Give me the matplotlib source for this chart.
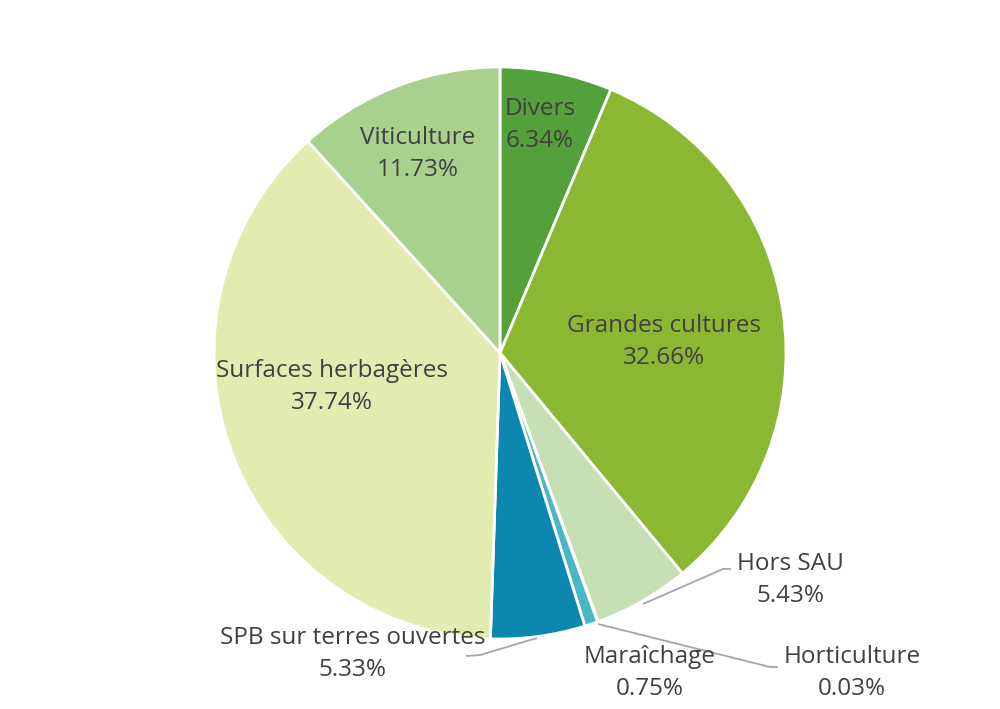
import matplotlib
matplotlib.use("Agg")
import matplotlib.pyplot as plt

categories = ["Divers", "Grandes cultures", "Hors SAU", "Horticulture", "Maraîchage",
              "SPB sur terres ouvertes", "Surfaces herbagères", "Viticulture"]
values = [6.34, 32.66, 5.43, 0.03, 0.75, 5.33, 37.74, 11.73]
colors = ["#54A03A", "#8AB833", "#C5E0B4", "#2E75B6", "#4BB7C6", "#0C87B0", "#E4EBB1", "#A9D18E"]

# label positions in pixel coordinates (x, y from top)
label_pos = {
    "Divers": (540, 125),
    "Grandes cultures": (664, 342),
    "Hors SAU": (790, 580),
    "Horticulture": (852, 673),
    "Maraîchage": (650, 673),
    "SPB sur terres ouvertes": (353, 654),
    "Surfaces herbagères": (332, 387),
    "Viticulture": (418, 154),
}
leaders = {
    "Hors SAU": [(643, 604), (723, 569), (731, 569)],
    "Horticulture": [(598, 624), (770, 667), (778, 667)],
    "SPB sur terres ouvertes": [(537, 638), (480, 655), (466, 656)],
}

W, H = 1000, 709
fig = plt.figure(figsize=(W / 100, H / 100), dpi=100)
ax = fig.add_axes([0, 0, 1, 1])

cx, cy, r = 500, H - 353, 286
ax.pie(values, colors=colors, startangle=90, counterclock=False,
       center=(cx, cy), radius=r, frame=True,
       wedgeprops=dict(edgecolor="white", linewidth=2.0))
ax.set_xlim(0, W)
ax.set_ylim(0, H)
ax.set_aspect("equal")
ax.axis("off")

for name, pts in leaders.items():
    xs = [p[0] for p in pts]
    ys = [H - p[1] for p in pts]
    ax.plot(xs, ys, color="#A6A6A6", linewidth=1.3, solid_capstyle="butt")

for name, v in zip(categories, values):
    x, y = label_pos[name]
    ax.text(x, H - y, f"{name}\n{v:.2f}%", ha="center", va="center",
            fontsize=17.5, color="#404040", family="Open Sans", linespacing=1.42)

fig.savefig("out.png", dpi=100)
